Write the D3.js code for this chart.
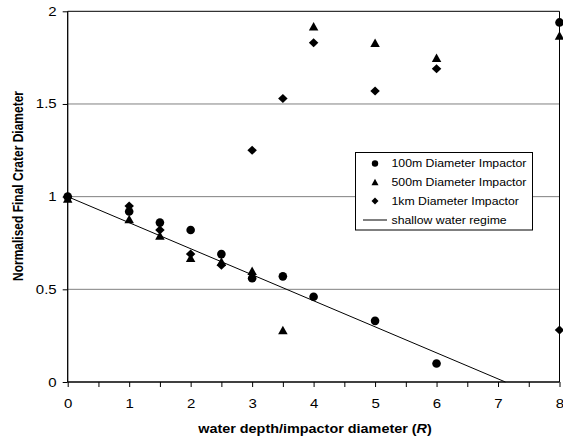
<!DOCTYPE html>
<html><head><meta charset="utf-8">
<script src="https://cdn.jsdelivr.net/npm/d3@7"></script>
<style>body{margin:0;background:#fff;} text{font-family:"Liberation Sans",Arial,sans-serif;}</style>
</head><body><svg id="c" width="563" height="438"></svg>
<script>
const xs100 = [0, 1, 1.5, 2, 2.5, 3, 3.5, 4, 5, 6, 8];
const ys100 = [1.0, 0.92, 0.86, 0.82, 0.69, 0.56, 0.57, 0.46, 0.33, 0.10, 1.94];
const xs500 = [0, 1, 1.5, 2, 2.5, 3, 3.5, 4, 5, 6, 8];
const ys500 = [0.99, 0.88, 0.79, 0.67, 0.65, 0.60, 0.28, 1.92, 1.83, 1.75, 1.87];
const xs1km = [0, 1, 1.5, 2, 2.5, 3, 3.5, 4, 5, 6, 8];
const ys1km = [1.0, 0.95, 0.82, 0.69, 0.63, 1.25, 1.53, 1.83, 1.57, 1.69, 0.28];
const lineX = [0, 7.12];
const lineY = [1, 0];
const xTicks = [0, 1, 2, 3, 4, 5, 6, 7, 8];
const yTicks = [0, 0.5, 1, 1.5, 2];
const legendLabels = ["100m Diameter Impactor", "500m Diameter Impactor", "1km Diameter Impactor", "shallow water regime"];

const svg = d3.select("#c");
const L = 67.7, R = 559.5, T = 11.3, B = 382;
const SX = 1.2;
const x = d3.scaleLinear().domain([0, 8]).range([L, R]);
const y = d3.scaleLinear().domain([0, 2]).range([B, T]);

// gridlines
svg.append("g").selectAll("line").data(yTicks.filter(v => v > 0 && v < 2)).join("line")
  .attr("x1", L).attr("x2", R).attr("y1", d => y(d)).attr("y2", d => y(d))
  .attr("stroke", "#808080").attr("stroke-width", 1);

// frame top & right
svg.append("line").attr("x1", L).attr("x2", R).attr("y1", T).attr("y2", T).attr("stroke", "#000");
svg.append("line").attr("x1", R).attr("x2", R).attr("y1", T).attr("y2", B).attr("stroke", "#000");

// axes
const xAxis = d3.axisBottom(x).tickValues(d3.range(0, 8.01, 0.5)).tickSize(5)
  .tickFormat(d => xTicks.includes(d) ? d : "");
const gx = svg.append("g").attr("transform", `translate(0,${B})`).call(xAxis);
gx.select(".domain").attr("stroke", "#000").attr("stroke-width", 1.3).attr("d", `M${L},0H${R}`);
gx.selectAll("text").attr("font-size", 12.5).attr("y", 12.5).attr("dy", "1.05em").attr("fill", "#000")
  .attr("transform", `scale(${SX},1)`);

const yAxis = d3.axisLeft(y).tickValues(yTicks).tickSize(5).tickFormat(d => d);
const gy = svg.append("g").attr("transform", `translate(${L},0)`).call(yAxis);
gy.select(".domain").attr("stroke", "#000").attr("stroke-width", 1.3).attr("d", `M0,${T}V${B}`);
gy.selectAll("text").attr("font-size", 12.5).attr("fill", "#000").attr("x", -11 / SX)
  .attr("transform", `scale(${SX},1)`);

// line
svg.append("path").datum(lineX.map((v, i) => [v, lineY[i]]))
  .attr("d", d3.line().x(d => x(d[0])).y(d => y(d[1])))
  .attr("stroke", "#000").attr("stroke-width", 1).attr("fill", "none");

function circ(r) { return `M${r},0A${r},${r} 0 1,1 ${-r},0A${r},${r} 0 1,1 ${r},0Z`; }
function tri(w, h) { return `M0,${-h/2}L${w/2},${h/2}L${-w/2},${h/2}Z`; }
function dia(w, h) { return `M0,${-h/2}L${w/2},0L0,${h/2}L${-w/2},0Z`; }

function pts(xs, ys, d) {
  svg.append("g").selectAll("path").data(xs.map((v, i) => [v, ys[i]])).join("path")
    .attr("d", d).attr("transform", p => `translate(${x(p[0])},${y(p[1])})`).attr("fill", "#000");
}
pts(xs1km, ys1km, dia(9.5, 9));
pts(xs500, ys500, tri(9.5, 8.5));
pts(xs100, ys100, circ(4.3));

// legend
const lg = svg.append("g");
lg.append("rect").attr("x", 355.5).attr("y", 152.5).attr("width", 177).attr("height", 77.5)
  .attr("fill", "#fff").attr("stroke", "#000");
const ly = [163.5, 182, 201, 220];
const syms = [circ(3.2), tri(7, 6.5), dia(7, 7)];
legendLabels.forEach((t, i) => {
  if (i < 3) lg.append("path").attr("d", syms[i]).attr("transform", `translate(375,${ly[i]})`).attr("fill", "#000");
  else lg.append("line").attr("x1", 363).attr("x2", 387).attr("y1", ly[i]).attr("y2", ly[i]).attr("stroke", "#000");
  lg.append("text").attr("transform", `translate(391.5,${ly[i]}) scale(1.17,1)`).attr("dy", "0.35em")
    .attr("font-size", 10.5).text(t);
});

// titles
svg.append("text").attr("transform", `translate(23,186) rotate(-90) scale(1,${SX})`).attr("text-anchor", "middle")
  .attr("font-size", 12).attr("font-weight", "bold").text("Normalised Final Crater Diameter");
const xt = svg.append("text").attr("transform", `translate(315,433) scale(${SX},1)`).attr("text-anchor", "middle")
  .attr("font-size", 12).attr("font-weight", "bold");
xt.append("tspan").text("water depth/impactor diameter (");
xt.append("tspan").attr("font-style", "italic").text("R");
xt.append("tspan").text(")");
</script></body></html>
